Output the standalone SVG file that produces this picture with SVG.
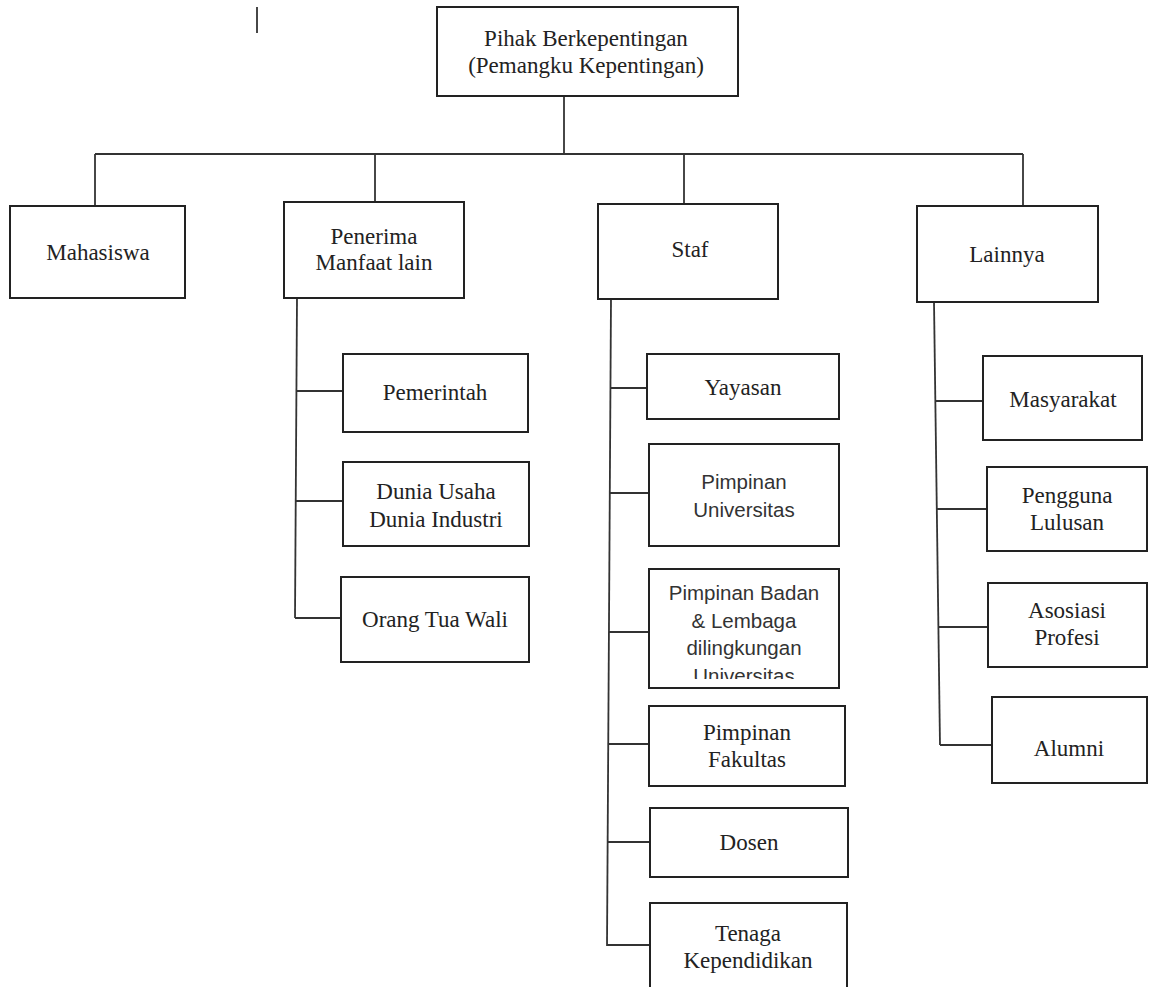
<svg xmlns="http://www.w3.org/2000/svg" width="1149" height="987" viewBox="0 0 1149 987">
<style>
.box{fill:#fff;stroke:#222;stroke-width:2}
.ln{fill:none;stroke:#333;stroke-width:1.8}
.t{font-family:"Liberation Serif","Times New Roman",serif;font-size:23px;fill:#222;text-anchor:middle}
.s{font-family:"Liberation Sans",Arial,sans-serif;font-size:20.5px;fill:#333;text-anchor:middle}
</style>
<defs>
<clipPath id="clipBadan"><rect x="649" y="569" width="190" height="110"/></clipPath>
</defs>
<rect width="1149" height="987" fill="#fff"/>
<line class="ln" x1="257" y1="7" x2="257" y2="33"/>
<g id="connectors">
<line class="ln" x1="564" y1="96" x2="564" y2="154"/>
<line class="ln" x1="95" y1="154" x2="1023" y2="154"/>
<line class="ln" x1="95" y1="154" x2="95" y2="206"/>
<line class="ln" x1="375" y1="154" x2="375" y2="202"/>
<line class="ln" x1="684" y1="154" x2="684" y2="204"/>
<line class="ln" x1="1023" y1="154" x2="1023" y2="206"/>
<line class="ln" x1="297" y1="298" x2="295" y2="618"/>
<line class="ln" x1="296" y1="391" x2="343" y2="391"/>
<line class="ln" x1="296" y1="501" x2="343" y2="501"/>
<line class="ln" x1="295" y1="618" x2="341" y2="618"/>
<line class="ln" x1="611" y1="299" x2="607" y2="946"/>
<line class="ln" x1="610" y1="388" x2="647" y2="388"/>
<line class="ln" x1="610" y1="493" x2="649" y2="493"/>
<line class="ln" x1="609" y1="632" x2="649" y2="632"/>
<line class="ln" x1="608" y1="744" x2="649" y2="744"/>
<line class="ln" x1="608" y1="842" x2="650" y2="842"/>
<line class="ln" x1="607" y1="945" x2="650" y2="945"/>
<line class="ln" x1="934" y1="302" x2="940" y2="745"/>
<line class="ln" x1="935" y1="401" x2="983" y2="401"/>
<line class="ln" x1="936" y1="509" x2="987" y2="509"/>
<line class="ln" x1="938" y1="627" x2="988" y2="627"/>
<line class="ln" x1="940" y1="745" x2="992" y2="745"/>
</g>
<g id="root">
<rect class="box" x="437" y="7" width="301" height="89"/>
<text class="t" x="586" y="46">Pihak Berkepentingan</text>
<text class="t" x="586" y="73">(Pemangku Kepentingan)</text>
</g>
<g id="mahasiswa">
<rect class="box" x="10" y="206" width="175" height="92"/>
<text class="t" x="98" y="260">Mahasiswa</text>
</g>
<g id="penerima">
<rect class="box" x="284" y="202" width="180" height="96"/>
<text class="t" x="374" y="244">Penerima</text>
<text class="t" x="374" y="270">Manfaat lain</text>
</g>
<g id="staf">
<rect class="box" x="598" y="204" width="180" height="95"/>
<text class="t" x="690" y="257">Staf</text>
</g>
<g id="lainnya">
<rect class="box" x="917" y="206" width="181" height="96"/>
<text class="t" x="1007" y="262">Lainnya</text>
</g>
<g id="pemerintah">
<rect class="box" x="343" y="354" width="185" height="78"/>
<text class="t" x="435" y="400">Pemerintah</text>
</g>
<g id="dunia">
<rect class="box" x="343" y="462" width="186" height="84"/>
<text class="t" x="436" y="499">Dunia Usaha</text>
<text class="t" x="436" y="527">Dunia Industri</text>
</g>
<g id="orangtua">
<rect class="box" x="341" y="577" width="188" height="85"/>
<text class="t" x="435" y="627">Orang Tua Wali</text>
</g>
<g id="yayasan">
<rect class="box" x="647" y="354" width="192" height="65"/>
<text class="t" x="743" y="395">Yayasan</text>
</g>
<g id="pimpinan-universitas">
<rect class="box" x="649" y="444" width="190" height="102"/>
<text class="s" x="744" y="489">Pimpinan</text>
<text class="s" x="744" y="517">Universitas</text>
</g>
<g id="pimpinan-badan">
<rect class="box" x="649" y="569" width="190" height="119"/>
<g clip-path="url(#clipBadan)">
<text class="s" x="744" y="600">Pimpinan Badan</text>
<text class="s" x="744" y="628">&amp; Lembaga</text>
<text class="s" x="744" y="655">dilingkungan</text>
<text class="s" x="744" y="683">Universitas</text>
</g>
</g>
<g id="pimpinan-fakultas">
<rect class="box" x="649" y="706" width="196" height="80"/>
<text class="t" x="747" y="740">Pimpinan</text>
<text class="t" x="747" y="767">Fakultas</text>
</g>
<g id="dosen">
<rect class="box" x="650" y="808" width="198" height="69"/>
<text class="t" x="749" y="850">Dosen</text>
</g>
<g id="tenaga">
<rect class="box" x="650" y="903" width="197" height="100"/>
<text class="t" x="748" y="941">Tenaga</text>
<text class="t" x="748" y="968">Kependidikan</text>
</g>
<g id="masyarakat">
<rect class="box" x="983" y="356" width="159" height="84"/>
<text class="t" x="1063" y="407">Masyarakat</text>
</g>
<g id="pengguna">
<rect class="box" x="987" y="467" width="160" height="84"/>
<text class="t" x="1067" y="503">Pengguna</text>
<text class="t" x="1067" y="530">Lulusan</text>
</g>
<g id="asosiasi">
<rect class="box" x="988" y="583" width="159" height="84"/>
<text class="t" x="1067" y="618">Asosiasi</text>
<text class="t" x="1067" y="645">Profesi</text>
</g>
<g id="alumni">
<rect class="box" x="992" y="697" width="155" height="86"/>
<text class="t" x="1069" y="756">Alumni</text>
</g>
</svg>
